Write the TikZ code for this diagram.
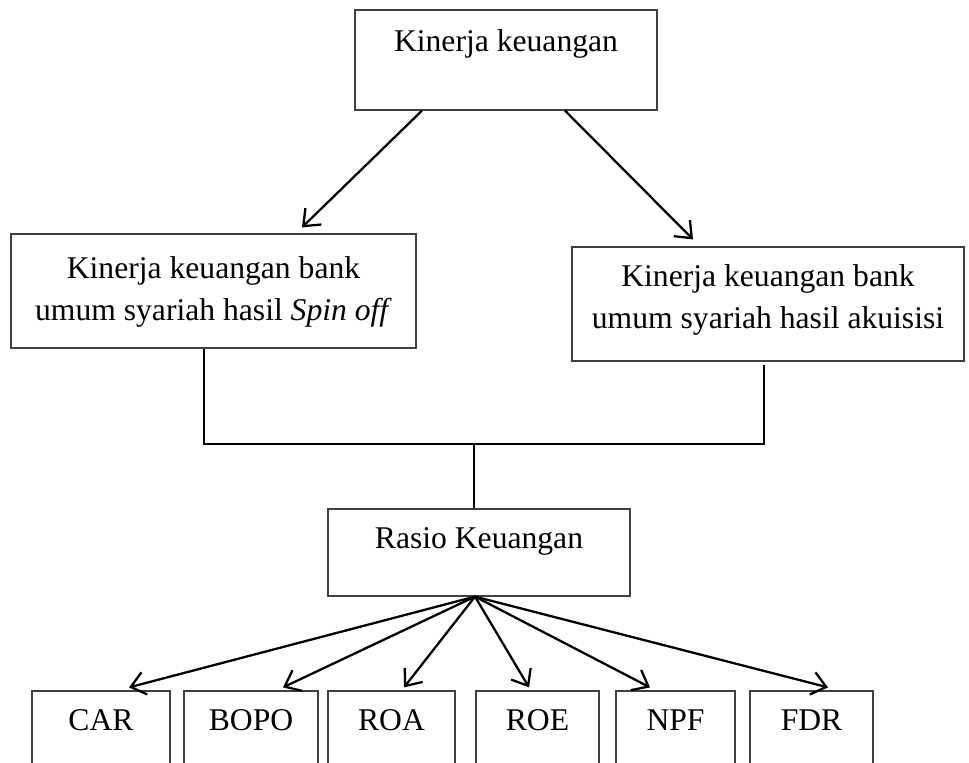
\documentclass[tikz,border=0pt]{standalone}
\usepackage{fontspec}
\setmainfont{Liberation Serif}
\usetikzlibrary{
  arrows.meta,
  positioning
}
\definecolor{boxgray}{RGB}{64,64,64}

\begin{document}
\begin{tikzpicture}[
  x=0.02cm, y=-0.02cm,
  box/.style={
    draw=boxgray,
    line width=0.7pt,
    inner sep=0pt
  },
  txt/.style={
    font=\fontsize{18}{24}\selectfont,
    align=center,
    inner sep=0pt
  },
  conn/.style={line width=1.3pt, black},
  arr/.style={conn, -{Straight Barb[length=8pt,width=13pt]}}
]
\useasboundingbox (0,0) rectangle (969,763);
\clip (0,0) rectangle (969,763);

% boxes
\node[box, minimum width=6.04cm, minimum height=2cm] (kin) at (506,60) {};
\node[box, minimum width=8.1cm, minimum height=2.28cm] (spin) at (213.5,291) {};
\node[box, minimum width=7.84cm, minimum height=2.28cm] (akui) at (768,304) {};
\node[box, minimum width=6.04cm, minimum height=1.74cm] (rasio) at (479,552.5) {};
\node[box, minimum width=2.76cm, minimum height=2cm] (car) at (101,741) {};
\node[box, minimum width=2.68cm, minimum height=2cm] (bopo) at (251,741) {};
\node[box, minimum width=2.54cm, minimum height=2cm] (roa) at (391.5,741) {};
\node[box, minimum width=2.46cm, minimum height=2cm] (roe) at (537.5,741) {};
\node[box, minimum width=2.38cm, minimum height=2cm] (npf) at (675.5,741) {};
\node[box, minimum width=2.46cm, minimum height=2cm] (fdr) at (811.5,741) {};

% texts
\node[txt, anchor=base] (kin-t) at (506,52) {Kinerja keuangan};
\node[txt, anchor=north] (spin-t) at (213.5,256) {Kinerja keuangan bank\\umum syariah hasil \textit{Spin off}};
\node[txt, anchor=north] (akui-t) at (768,264) {Kinerja keuangan bank\\umum syariah hasil akuisisi};
\node[txt, anchor=base] (rasio-t) at (479,548) {Rasio Keuangan};
\node[txt, anchor=base] (car-t) at (101,730) {CAR};
\node[txt, anchor=base] (bopo-t) at (251,730) {BOPO};
\node[txt, anchor=base] (roa-t) at (391.5,730) {ROA};
\node[txt, anchor=base] (roe-t) at (537.5,730) {ROE};
\node[txt, anchor=base] (npf-t) at (675.5,730) {NPF};
\node[txt, anchor=base] (fdr-t) at (811.5,730) {FDR};

% top arrows
\draw[arr] ([xshift=-1.68cm]kin.south) -- ([xshift=1.77cm,yshift=0.12cm]spin.north);
\draw[arr] ([xshift=1.18cm]kin.south) -- ([xshift=-1.5cm,yshift=0.14cm]akui.north);

% joining lines
\coordinate (join) at (474,444);
\draw[conn] ([xshift=-0.19cm]spin.south) |- (join);
\draw[conn] ([xshift=-0.08cm,yshift=-0.06cm]akui.south) |- (join);
\draw[conn] (join) -- (join |- rasio.north);

% ratio arrows
\coordinate (hub) at ([xshift=-0.08cm]rasio.south);
\draw[arr] (hub) -- ([xshift=0.56cm,yshift=0.06cm]car.north);
\draw[arr] (hub) -- ([xshift=0.64cm,yshift=0.06cm]bopo.north);
\draw[arr] (hub) -- ([xshift=0.25cm,yshift=0.06cm]roa.north);
\draw[arr] (hub) -- ([xshift=-0.17cm,yshift=0.06cm]roe.north);
\draw[arr] (hub) -- ([xshift=-0.51cm,yshift=0.06cm]npf.north);
\draw[arr] (hub) -- ([xshift=0.33cm,yshift=0.06cm]fdr.north);

\end{tikzpicture}
\end{document}
